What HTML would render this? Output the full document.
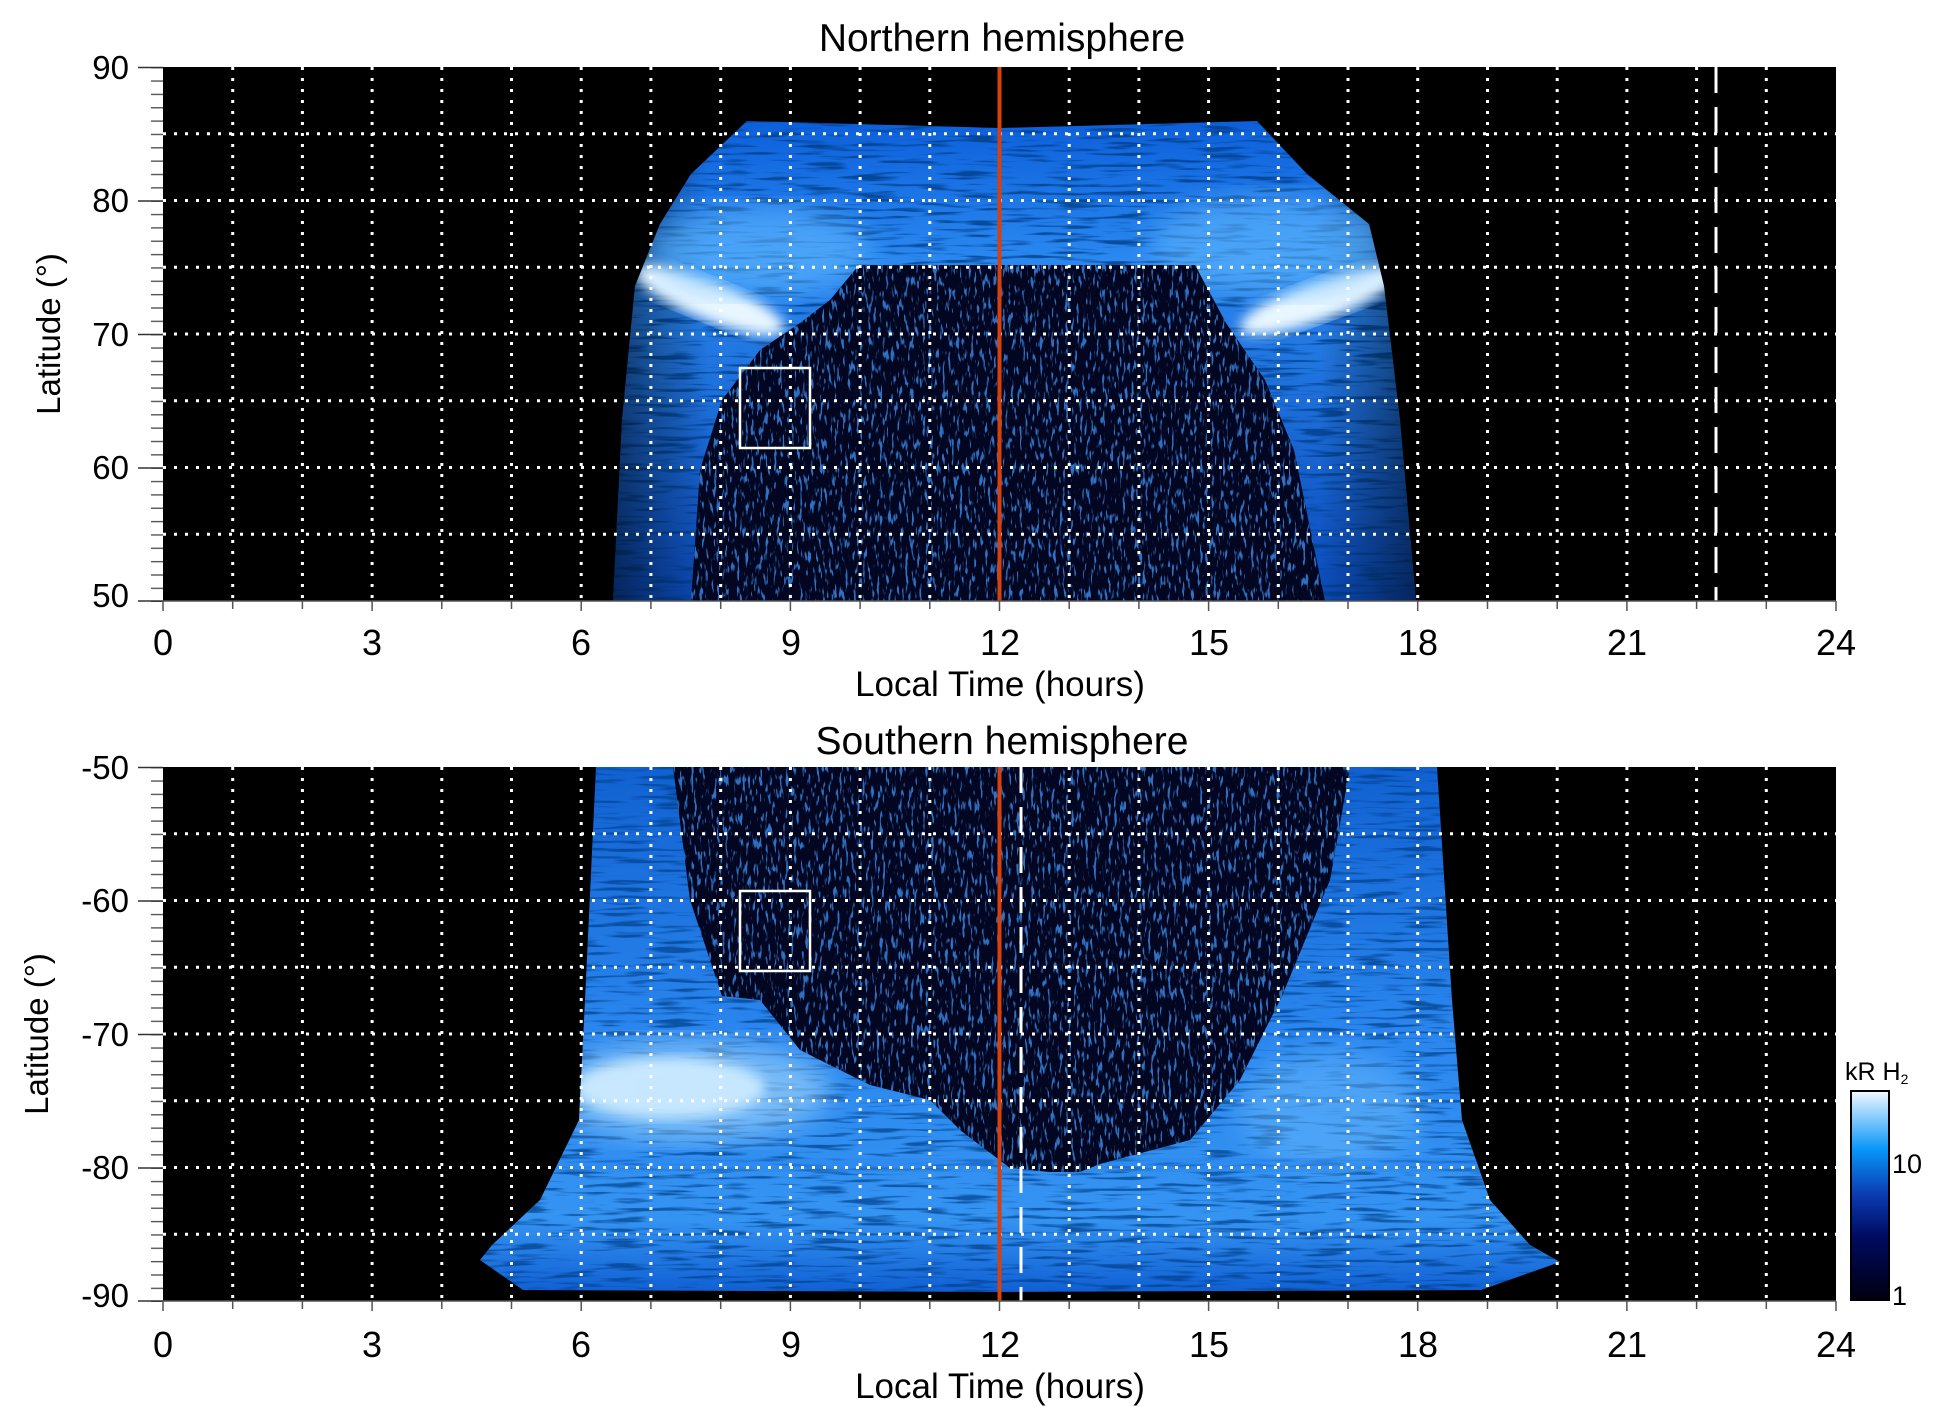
<!DOCTYPE html>
<html><head><meta charset="utf-8"><style>
html,body{margin:0;padding:0;background:#fff}
svg{display:block}
text{font-family:"Liberation Sans",sans-serif;fill:#000}
</style></head><body>
<svg width="1950" height="1423" viewBox="0 0 1950 1423" xmlns="http://www.w3.org/2000/svg">
<defs>
<pattern id="ytk" width="12" height="13.35" patternUnits="userSpaceOnUse" x="151" y="67"><line x1="0" y1="0.7" x2="12" y2="0.7" stroke="#555" stroke-width="1.4"/></pattern>
<pattern id="ytk2" width="12" height="13.35" patternUnits="userSpaceOnUse" x="151" y="767"><line x1="0" y1="0.7" x2="12" y2="0.7" stroke="#555" stroke-width="1.4"/></pattern>
<filter id="spk" x="0" y="0" width="100%" height="100%">
<feTurbulence type="fractalNoise" baseFrequency="0.35 0.08" numOctaves="2" seed="3"/>
<feColorMatrix type="matrix" values="0 0 0 0 0.05  0 0 0 0 0.3  0 0 0 0 0.95  0 0 0 9 -5.2"/>
</filter>
<filter id="str" x="0" y="0" width="100%" height="100%">
<feTurbulence type="fractalNoise" baseFrequency="0.02 0.25" numOctaves="2" seed="7"/>
<feColorMatrix type="matrix" values="0 0 0 0 0  0 0 0 0 0.05  0 0 0 0 0.25  0 0 0 5 -2.6"/>
</filter>
<filter id="bl"><feGaussianBlur stdDeviation="14"/></filter>
<filter id="bl2"><feGaussianBlur stdDeviation="6"/></filter>
<linearGradient id="gt" x1="0" y1="0" x2="0" y2="1">
<stop offset="0" stop-color="#0a5cd8"/><stop offset="0.3" stop-color="#2a88f0"/><stop offset="1" stop-color="#0a48b8"/></linearGradient>
<linearGradient id="gth" x1="0" y1="0" x2="1" y2="0">
<stop offset="0" stop-color="#000" stop-opacity="0.5"/><stop offset="0.12" stop-color="#000" stop-opacity="0"/><stop offset="0.88" stop-color="#000" stop-opacity="0"/><stop offset="1" stop-color="#000" stop-opacity="0.5"/></linearGradient>
<linearGradient id="gb" x1="0" y1="0" x2="0" y2="1">
<stop offset="0" stop-color="#1060d0"/><stop offset="0.5" stop-color="#2a86ee"/><stop offset="0.85" stop-color="#3594f2"/><stop offset="1" stop-color="#0c5ad0"/></linearGradient>
<linearGradient id="cb" x1="0" y1="1" x2="0" y2="0">
<stop offset="0" stop-color="#000010"/><stop offset="0.3" stop-color="#000a60"/><stop offset="0.5" stop-color="#0a3ab0"/><stop offset="0.72" stop-color="#0896f8"/><stop offset="1" stop-color="#f0f8ff"/></linearGradient>
<clipPath id="c1"><rect x="163" y="67" width="1673" height="534"/></clipPath>
<clipPath id="c2"><rect x="163" y="767" width="1673" height="534"/></clipPath>
<clipPath id="o1"><path d="M613,601 L622,420 L635,286 L660,224 L691,174 L747,121 L1000,128 L1257,121 L1307,174 L1369,224 L1384,286 L1400,420 L1416,601 Z"/></clipPath>
<clipPath id="i1"><path d="M691,601 L700,470 L722,400 L760,350 L800,323 L830,300 L859,265 L1195,265 L1226,323 L1265,380 L1294,450 L1325,601 Z"/></clipPath>
<clipPath id="o2"><path d="M596,767 L1437,767 L1452,1000 L1462,1120 L1490,1200 L1530,1245 L1560,1262 L1481,1290 L1000,1292 L523,1290 L480,1260 L492,1245 L540,1200 L579,1120 L585,1000 Z"/></clipPath>
<clipPath id="i2"><path d="M673,767 L1350,767 L1330,880 L1282,996 L1240,1080 L1190,1140 L1100,1164 L1080,1172 L1050,1172 L1010,1168 L960,1130 L930,1100 L870,1085 L800,1050 L760,1000 L722,996 L690,900 Z"/></clipPath>
</defs>

<!-- TOP PANEL -->
<rect x="163" y="67" width="1673" height="534" fill="#000"/>
<g clip-path="url(#c1)">
<g clip-path="url(#o1)">
<rect x="600" y="110" width="830" height="500" fill="url(#gt)"/>
<rect x="600" y="110" width="830" height="500" filter="url(#str)" opacity="0.8"/>
<rect x="613" y="110" width="803" height="500" fill="url(#gth)"/>
<ellipse cx="710" cy="300" rx="80" ry="20" fill="#e8f6ff" transform="rotate(22 710 300)" filter="url(#bl2)"/>
<ellipse cx="1320" cy="300" rx="85" ry="20" fill="#e8f6ff" transform="rotate(-20 1320 300)" filter="url(#bl2)"/>
<ellipse cx="760" cy="250" rx="110" ry="45" fill="#60b8ff" opacity="0.6" filter="url(#bl)"/>
<ellipse cx="1270" cy="245" rx="120" ry="50" fill="#60b8ff" opacity="0.6" filter="url(#bl)"/>
</g>
<g clip-path="url(#i1)">
<rect x="691" y="265" width="634" height="336" fill="#020620"/>
<rect x="691" y="265" width="634" height="336" filter="url(#spk)" opacity="0.75"/>
</g>
</g>
<g stroke="#fff" stroke-width="3" stroke-dasharray="3 8" fill="none" clip-path="url(#c1)">
<path d="M232.7,67V601M302.4,67V601M372.1,67V601M441.8,67V601M511.5,67V601M581.2,67V601M650.9,67V601M720.7,67V601M790.4,67V601M860.1,67V601M929.8,67V601M1069.2,67V601M1138.9,67V601M1208.6,67V601M1278.3,67V601M1348,67V601M1417.7,67V601M1487.5,67V601M1557.2,67V601M1626.9,67V601M1696.6,67V601M1766.3,67V601"/>
<path d="M163,133.75H1836M163,200.5H1836M163,267.25H1836M163,334H1836M163,400.75H1836M163,467.5H1836M163,534.25H1836"/>
</g>
<line x1="1716" y1="67" x2="1716" y2="601" stroke="#fff" stroke-width="3" stroke-dasharray="26 14"/>
<line x1="999.5" y1="67" x2="999.5" y2="601" stroke="#d8400c" stroke-width="4"/>
<rect x="740" y="368" width="70" height="80" fill="none" stroke="#fff" stroke-width="2.5"/>
<rect x="151" y="67" width="12" height="535" fill="url(#ytk)"/>
<path d="M138,67.5H163M138,201H163M138,334.5H163M138,468H163M138,601H163" stroke="#333" stroke-width="1.5"/>
<line x1="163" y1="601" x2="1836" y2="601" stroke="#555" stroke-width="1.5"/>
<g font-size="33" text-anchor="end">
<text x="129" y="79">90</text><text x="129" y="212">80</text><text x="129" y="346">70</text><text x="129" y="479">60</text><text x="129" y="607">50</text>
</g>
<g font-size="36" text-anchor="middle">
<text x="163" y="655">0</text><text x="372" y="655">3</text><text x="581" y="655">6</text><text x="791" y="655">9</text><text x="1000" y="655">12</text><text x="1209" y="655">15</text><text x="1418" y="655">18</text><text x="1627" y="655">21</text><text x="1836" y="655">24</text>
<text x="1000" y="696" font-size="35">Local Time (hours)</text>
<text x="1002" y="51" font-size="39">Northern hemisphere</text>
<text x="1002" y="754" font-size="39">Southern hemisphere</text>
</g>
<text transform="translate(60 334) rotate(-90)" font-size="33" text-anchor="middle">Latitude (°)</text>

<!-- BOTTOM PANEL -->
<rect x="163" y="767" width="1673" height="534" fill="#000"/>
<g clip-path="url(#c2)">
<g clip-path="url(#o2)">
<rect x="470" y="760" width="1100" height="540" fill="url(#gb)"/>
<rect x="470" y="760" width="1100" height="540" filter="url(#str)" opacity="0.7"/>
<ellipse cx="670" cy="1088" rx="95" ry="30" fill="#f4faff" filter="url(#bl2)"/>
<ellipse cx="690" cy="1090" rx="140" ry="50" fill="#a8dcff" opacity="0.6" filter="url(#bl)"/>
<ellipse cx="1330" cy="1110" rx="90" ry="60" fill="#70c0ff" opacity="0.45" filter="url(#bl)"/>
<rect x="500" y="1158" width="1040" height="14" fill="#2a86ee" opacity="0.5"/>
</g>
<g clip-path="url(#i2)">
<rect x="673" y="767" width="677" height="410" fill="#020620"/>
<rect x="673" y="767" width="677" height="410" filter="url(#spk)" opacity="0.75"/>
</g>
</g>
<g stroke="#fff" stroke-width="3" stroke-dasharray="3 8" fill="none" clip-path="url(#c2)">
<path d="M232.7,767V1301M302.4,767V1301M372.1,767V1301M441.8,767V1301M511.5,767V1301M581.2,767V1301M650.9,767V1301M720.7,767V1301M790.4,767V1301M860.1,767V1301M929.8,767V1301M1069.2,767V1301M1138.9,767V1301M1208.6,767V1301M1278.3,767V1301M1348,767V1301M1417.7,767V1301M1487.5,767V1301M1557.2,767V1301M1626.9,767V1301M1696.6,767V1301M1766.3,767V1301"/>
<path d="M163,833.75H1836M163,900.5H1836M163,967.25H1836M163,1034H1836M163,1100.75H1836M163,1167.5H1836M163,1234.25H1836"/>
</g>
<line x1="1021" y1="767" x2="1021" y2="1301" stroke="#fff" stroke-width="3" stroke-dasharray="26 14"/>
<line x1="999.5" y1="767" x2="999.5" y2="1301" stroke="#d8400c" stroke-width="4"/>
<rect x="740" y="891" width="70" height="80" fill="none" stroke="#fff" stroke-width="2.5"/>
<rect x="151" y="767" width="12" height="535" fill="url(#ytk2)"/>
<path d="M138,767.5H163M138,901H163M138,1034.5H163M138,1168H163M138,1301H163" stroke="#333" stroke-width="1.5"/>
<line x1="163" y1="1301" x2="1836" y2="1301" stroke="#555" stroke-width="1.5"/>
<g font-size="33" text-anchor="end">
<text x="129" y="779">-50</text><text x="129" y="912">-60</text><text x="129" y="1046">-70</text><text x="129" y="1179">-80</text><text x="129" y="1307">-90</text>
</g>
<g font-size="36" text-anchor="middle">
<text x="163" y="1357">0</text><text x="372" y="1357">3</text><text x="581" y="1357">6</text><text x="791" y="1357">9</text><text x="1000" y="1357">12</text><text x="1209" y="1357">15</text><text x="1418" y="1357">18</text><text x="1627" y="1357">21</text><text x="1836" y="1357">24</text>
<text x="1000" y="1398" font-size="35">Local Time (hours)</text>
</g>
<text transform="translate(48 1034) rotate(-90)" font-size="33" text-anchor="middle">Latitude (°)</text>

<g stroke="#555" stroke-width="1.5">
<path d="M163,601v10M232.7,601v8M302.4,601v8M372.1,601v10M441.8,601v8M511.5,601v8M581.2,601v10M650.9,601v8M720.7,601v8M790.4,601v10M860.1,601v8M929.8,601v8M999.5,601v10M1069.2,601v8M1138.9,601v8M1208.6,601v10M1278.3,601v8M1348,601v8M1417.7,601v10M1487.5,601v8M1557.2,601v8M1626.9,601v10M1696.6,601v8M1766.3,601v8M1836,601v10"/>
<path d="M163,1301v10M232.7,1301v8M302.4,1301v8M372.1,1301v10M441.8,1301v8M511.5,1301v8M581.2,1301v10M650.9,1301v8M720.7,1301v8M790.4,1301v10M860.1,1301v8M929.8,1301v8M999.5,1301v10M1069.2,1301v8M1138.9,1301v8M1208.6,1301v10M1278.3,1301v8M1348,1301v8M1417.7,1301v10M1487.5,1301v8M1557.2,1301v8M1626.9,1301v10M1696.6,1301v8M1766.3,1301v8M1836,1301v10"/>
</g>

<rect x="1851" y="1091" width="38" height="209" fill="url(#cb)" stroke="#000" stroke-width="2"/>
<text x="1845" y="1080" font-size="25">kR H<tspan font-size="14" dy="4">2</tspan></text>
<text x="1892" y="1173" font-size="27">10</text>
<text x="1892" y="1305" font-size="27">1</text>
</svg>
</body></html>
